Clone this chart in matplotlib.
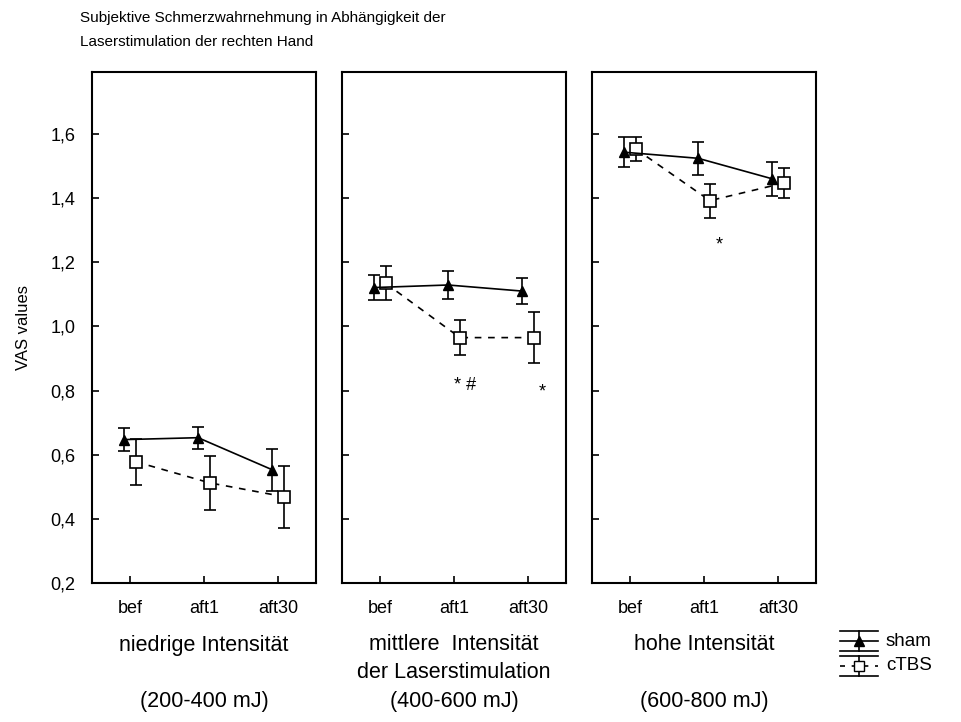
import matplotlib
matplotlib.use("Agg")
import matplotlib.pyplot as plt
from matplotlib.lines import Line2D
import numpy as np

plt.rcParams['font.family'] = ['Liberation Sans', 'DejaVu Sans']

# ---- data ----
timepoints = ["bef", "aft1", "aft30"]
panel_titles_1 = ["niedrige Intensität", "mittlere  Intensität", "hohe Intensität"]
panel_titles_2 = ["", "der Laserstimulation", ""]
panel_ranges = ["(200-400 mJ)", "(400-600 mJ)", "(600-800 mJ)"]
title_lines = ["Subjektive Schmerzwahrnehmung in Abhängigkeit der",
               "Laserstimulation der rechten Hand"]

sham_mean = [[0.647, 0.653, 0.553],
             [1.121, 1.129, 1.110],
             [1.543, 1.524, 1.460]]
sham_err = [[0.037, 0.034, 0.065],
            [0.040, 0.043, 0.040],
            [0.047, 0.052, 0.053]]
ctbs_mean = [[0.578, 0.512, 0.469],
             [1.134, 0.965, 0.965],
             [1.553, 1.392, 1.447]]
ctbs_err = [[0.072, 0.085, 0.097],
            [0.053, 0.055, 0.080],
            [0.037, 0.053, 0.047]]

# significance annotations: (panel, x, y, text)
annotations = [(1, 1.15, 0.815, "* #"), (1, 2.19, 0.795, "*"), (2, 1.21, 1.255, "*")]

yticks = [0.2, 0.4, 0.6, 0.8, 1.0, 1.2, 1.4, 1.6]
ytick_labels = ["0,2", "0,4", "0,6", "0,8", "1,0", "1,2", "1,4", "1,6"]

W, H = 962, 722
fig = plt.figure(figsize=(W / 100, H / 100), dpi=100)

lefts = [92, 342, 592]
top, bottom = 72, 583
pw = 224
off = 0.08
fs_title = 11
fs_tick = 13
fs_group = 15.5
fs_leg = 13.5

axes = []
for i in range(3):
    ax = fig.add_axes([lefts[i] / W, (H - bottom) / H, pw / W, (bottom - top) / H])
    axes.append(ax)
    x = np.arange(3)
    ax.errorbar(x + off, ctbs_mean[i], yerr=ctbs_err[i], color='black', lw=1.2,
                ls=(0, (4, 4)), marker='s', ms=8, mfc='white', mec='black', mew=1.2,
                capsize=4, capthick=1.2, elinewidth=1.2, zorder=3)
    ax.errorbar(x - off, sham_mean[i], yerr=sham_err[i], color='black', lw=1.2,
                ls='-', marker='^', ms=7.5, mfc='black', mec='black',
                capsize=4, capthick=1.2, elinewidth=1.2, zorder=4)
    ax.set_xlim(-0.51, 2.51)
    ax.set_ylim(0.2, 1.793)
    ax.set_xticks(x)
    ax.set_xticklabels(timepoints, fontsize=fs_tick)
    ax.set_yticks(yticks)
    if i == 0:
        ax.set_yticklabels(ytick_labels, fontsize=fs_tick)
        ax.set_ylabel("VAS values", fontsize=12, labelpad=14)
    else:
        ax.set_yticklabels([])
    ax.tick_params(axis='x', direction='in', length=5, width=1.2, top=False, pad=12)
    ax.tick_params(axis='y', direction='in', length=5, width=1.2, right=False, pad=12)
    for s in ax.spines.values():
        s.set_linewidth(1.5)
    cx = (lefts[i] + pw / 2) / W
    fig.text(cx, 1 - 645 / H, panel_titles_1[i], ha='center', va='center', fontsize=fs_group)
    if panel_titles_2[i]:
        fig.text(cx, 1 - 672 / H, panel_titles_2[i], ha='center', va='center', fontsize=fs_group)
    fig.text(cx, 1 - 701 / H, panel_ranges[i], ha='center', va='center', fontsize=fs_group)

for p, xx, yy, t in annotations:
    axes[p].text(xx, yy, t, ha='center', va='center', fontsize=13)

fig.text(80 / W, 1 - 18 / H, title_lines[0], ha='left', va='center', fontsize=fs_title)
fig.text(80 / W, 1 - 42 / H, title_lines[1], ha='left', va='center', fontsize=fs_title)

# legend (manual glyphs)
def legend_glyph(yc, filled, dashed):
    x0, x1 = 840, 878
    xm = (x0 + x1) / 2
    for yy in (yc - 10, yc + 10):
        fig.add_artist(Line2D([x0 / W, x1 / W], [1 - yy / H, 1 - yy / H], color='black', lw=1.2))
    fig.add_artist(Line2D([xm / W, xm / W], [1 - (yc - 10) / H, 1 - (yc + 10) / H], color='black', lw=1.2))
    if dashed:
        fig.add_artist(Line2D([x0 / W, x1 / W], [1 - yc / H, 1 - yc / H], color='black', lw=1.2,
                              ls=(0, (3, 4))))
        fig.add_artist(Line2D([xm / W], [1 - yc / H], color='black', marker='s', ms=7,
                              mfc='white', mec='black', ls='none'))
    else:
        fig.add_artist(Line2D([x0 / W, x1 / W], [1 - yc / H, 1 - yc / H], color='black', lw=1.2))
        fig.add_artist(Line2D([xm / W], [1 - yc / H], color='black', marker='^', ms=7,
                              mfc='black', mec='black', ls='none'))

legend_glyph(641, True, False)
legend_glyph(666, False, True)
fig.text(886 / W, 1 - 642 / H, "sham", ha='left', va='center', fontsize=fs_leg)
fig.text(886 / W, 1 - 665 / H, "cTBS", ha='left', va='center', fontsize=fs_leg)

fig.savefig("out.png", dpi=100)
